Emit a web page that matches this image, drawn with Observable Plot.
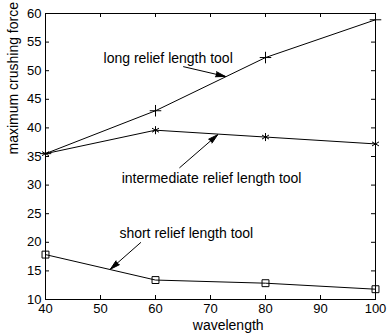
<!DOCTYPE html>
<html>
<head>
<meta charset="utf-8">
<script src="https://cdn.jsdelivr.net/npm/d3@7"></script>
<script src="https://cdn.jsdelivr.net/npm/@observablehq/plot@0.6"></script>
<style>
  html, body { margin: 0; padding: 0; background: #fff; }
  #chart svg { display: block; }
</style>
</head>
<body>
<div id="chart"></div>
<script>
// ---- data ----
const wavelength = [40, 60, 80, 100];
const longForce = [35.5, 43.0, 52.3, 58.9];
const intermediateForce = [35.5, 39.6, 38.4, 37.2];
const shortForce = [17.85, 13.4, 12.85, 11.8];

const xTicks = [40, 50, 60, 70, 80, 90, 100];
const yTicks = [10, 15, 20, 25, 30, 35, 40, 45, 50, 55, 60];

const seriesNames = ["long", "intermediate", "short"];
const seriesSymbols = ["plus", "asterisk", "square2"];
const seriesMarkerR = [3.8, 3.8, 4.4];

const annotationTexts = ["long relief length tool", "intermediate relief length tool", "short relief length tool"];
const annotationX = [62.3, 70.2, 65.6];
const annotationY = [52.2, 31.1, 21.6];

const arrowX1 = [65.1, 64.4, 57.3];
const arrowY1 = [50.7, 33.05, 19.95];
const arrowX2 = [72.7, 71.3, 51.8];
const arrowY2 = [49.0, 38.8, 15.3];

// ---- build tables ----
const seriesValues = [longForce, intermediateForce, shortForce];
const rows = [];
seriesNames.forEach((s, k) => wavelength.forEach((w, i) => rows.push({series: s, symbol: seriesSymbols[k], r: seriesMarkerR[k], x: w, y: seriesValues[k][i]})));
const annotations = annotationTexts.map((t, i) => ({text: t, x: annotationX[i], y: annotationY[i]}));
const arrows = arrowX1.map((d, i) => ({x1: arrowX1[i], y1: arrowY1[i], x2: arrowX2[i], y2: arrowY2[i]}));

const W = 392, H = 335;
const mL = 45, mR = 17, mT = 13, mB = 36;
const innerW = W - mL - mR, innerH = H - mT - mB;
const tickLen = 4;

const chart = Plot.plot({
  width: W,
  height: H,
  marginLeft: mL,
  marginRight: mR,
  marginTop: mT,
  marginBottom: mB,
  style: {fontFamily: "'Liberation Sans', Arial, sans-serif", background: "#fff", color: "#000"},
  x: {domain: [40, 100]},
  y: {domain: [10, 60]},
  r: {type: "identity"},
  marks: [
    Plot.frame({stroke: "#000", strokeWidth: 1}),
    Plot.axisX({ticks: xTicks, tickSize: 0, tickPadding: 4, fontSize: 13, label: null, tickFormat: d => d}),
    Plot.axisY({ticks: yTicks, tickSize: 0, tickPadding: 4, fontSize: 13, label: null, tickFormat: d => d}),
    // inward ticks on all four sides
    Plot.ruleX(xTicks, {x: d => d, insetTop: innerH - tickLen, stroke: "#000"}),
    Plot.ruleX(xTicks, {x: d => d, insetBottom: innerH - tickLen, stroke: "#000"}),
    Plot.ruleY(yTicks, {y: d => d, insetRight: innerW - tickLen, stroke: "#000"}),
    Plot.ruleY(yTicks, {y: d => d, insetLeft: innerW - tickLen, stroke: "#000"}),
    // series
    Plot.line(rows, {x: "x", y: "y", z: "series", stroke: "#000", strokeWidth: 1}),
    Plot.dot(rows, {x: "x", y: "y", symbol: "symbol", r: "r", stroke: "#000", fill: "none", strokeWidth: 1}),
    // annotations
    Plot.text(annotations, {x: "x", y: "y", text: "text", fontSize: 14, fill: "#000"}),
    Plot.arrow(arrows, {x1: "x1", y1: "y1", x2: "x2", y2: "y2", stroke: "#000", fill: "#000", strokeWidth: 1, headLength: 15, headAngle: 30}),
    // axis labels
    Plot.text(["wavelength"], {frameAnchor: "bottom", lineAnchor: "bottom", dx: 17.7, dy: 30.5, fontSize: 14, fill: "#000"}),
    Plot.text(["maximum crushing force"], {frameAnchor: "left", rotate: -90, dx: -32, dy: -2, fontSize: 14, fill: "#000"})
  ]
});
document.getElementById("chart").appendChild(chart);
</script>
</body>
</html>
